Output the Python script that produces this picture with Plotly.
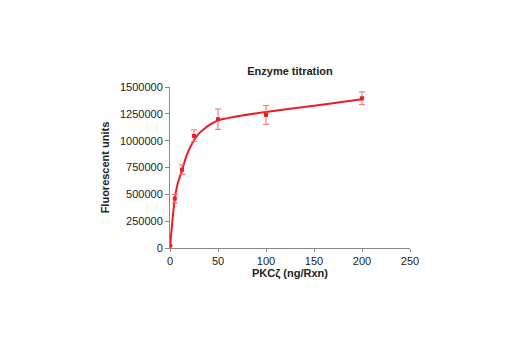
import plotly.graph_objects as go

# Measured data points
conc = [0, 5, 12.5, 25, 50, 100, 200]
fluor = [20000, 460000, 730000, 1045000, 1200000, 1240000, 1395000]
err = [0, 40000, 45000, 55000, 95000, 88000, 60000]

# Fitted curve
fit_x = [0, 2.5, 5, 8, 12.5, 18, 25, 30, 35, 40, 50, 60, 75, 100, 125, 150, 175, 200]
fit_y = [10000, 250000, 460000, 600000, 723000, 880000, 1003000, 1065000, 1105000, 1140000,
         1189000, 1210000, 1235000, 1267000, 1297000, 1325000, 1355000, 1385000]

x_ticks = [0, 50, 100, 150, 200, 250]
y_ticks = [0, 250000, 500000, 750000, 1000000, 1250000, 1500000]

FONT = "Liberation Sans Narrow, Arial Narrow, Liberation Sans, Arial, sans-serif"
RED = "#ee1c25"

fig = go.Figure()
fig.add_trace(go.Scatter(x=fit_x, y=fit_y, mode="lines", line=dict(color=RED, width=2, shape="spline"),
                         hoverinfo="skip", showlegend=False))
fig.add_trace(go.Scatter(x=conc, y=fluor, mode="markers",
                         marker=dict(symbol="square", size=4, color=RED),
                         error_y=dict(type="data", array=err, color="#f26b6b", thickness=1, width=3),
                         showlegend=False))

fig.update_layout(
    width=520, height=350,
    margin=dict(l=170, r=110, t=87, b=102),
    paper_bgcolor="white", plot_bgcolor="white",
    font=dict(family=FONT, size=11, color="#222"),
    title=dict(text="<b>Enzyme titration</b>", xref="paper", x=0.5, xanchor="center",
               y=1 - 71 / 350, yanchor="middle",
               font=dict(family=FONT, size=11, color="#222")),
)
fig.update_xaxes(range=[0, 250], tickvals=x_ticks, ticktext=[str(v) for v in x_ticks],
                 showline=True, linecolor="#888", linewidth=1, ticks="outside", ticklen=3, tickcolor="#888",
                 showgrid=False, zeroline=False,
                 title=dict(text="<b>PKCζ (ng/Rxn)</b>", standoff=3, font=dict(family=FONT, size=11)),
                 tickfont=dict(family=FONT, size=11))
fig.update_yaxes(range=[0, 1500000], tickvals=y_ticks, ticktext=[str(v) for v in y_ticks],
                 showline=True, linecolor="#888", linewidth=1, ticks="outside", ticklen=4, tickcolor="#888",
                 showgrid=False, zeroline=False,
                 title=dict(text="<b>Fluorescent units</b>", standoff=8, font=dict(family=FONT, size=11)),
                 tickfont=dict(family=FONT, size=11))

fig.write_html("out.html")
